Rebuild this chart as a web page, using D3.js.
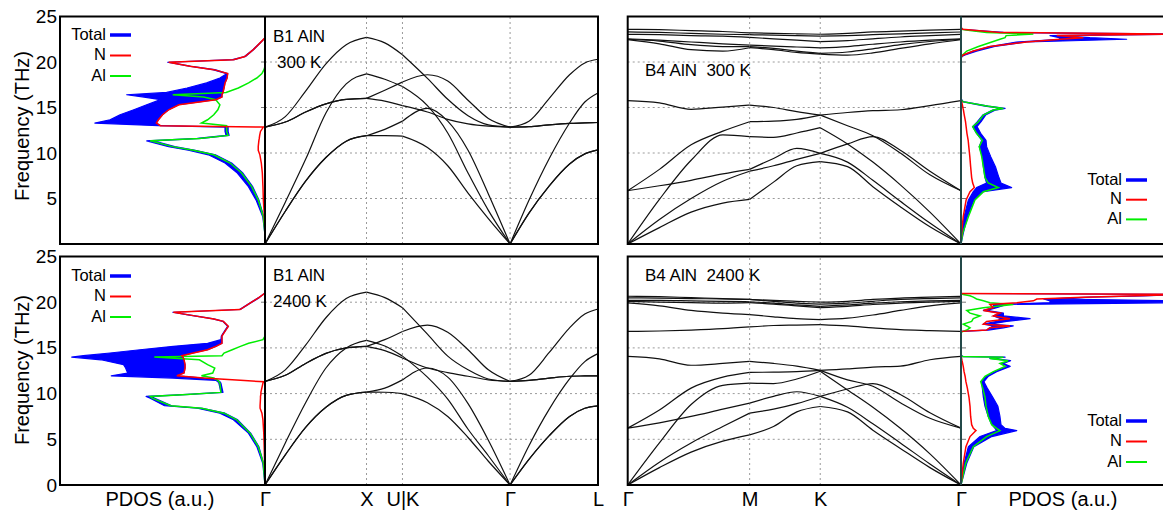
<!DOCTYPE html>
<html>
<head>
<meta charset="utf-8">
<script src="https://cdn.jsdelivr.net/npm/d3@7"></script>
<style>
  html, body { margin: 0; padding: 0; background: #fff; }
  svg { display: block; }
</style>
</head>
<body>
<svg id="fig" width="1163" height="512"></svg>
<script>
// ---------------- phonon dispersion: B1 (rocksalt) AlN ----------------
// path Γ–X–U|K–Γ–L, wavevector in units of 2π/a along the path
const b1K = [0, 0.2, 0.4, 0.6, 0.8, 1.0, 1.18, 1.354, 1.6, 1.8, 2.0, 2.2, 2.414, 2.6, 2.8, 3.0, 3.15, 3.28];
const b1SymK = [0, 1.0, 1.354, 2.414, 3.28];
const b1SymLabels = ["Γ", "X", "U|K", "Γ", "L"];

// 300 K branches (THz)
const b1ColdLO  = [12.85, 14.0, 16.8, 19.8, 21.9, 22.7, 22.1, 20.8, 18.2, 15.9, 14.1, 13.1, 12.85, 13.5, 16.0, 18.6, 19.9, 20.3];
const b1ColdTO1 = [12.85, 13.4, 14.5, 15.4, 15.9, 16.0, 16.9, 17.8, 18.6, 17.9, 15.8, 13.8, 12.85, 12.9, 13.1, 13.25, 13.3, 13.35];
const b1ColdTO2 = [12.85, 13.4, 14.5, 15.4, 15.9, 16.0, 15.7, 15.2, 14.5, 13.7, 13.2, 12.95, 12.85, 12.9, 13.1, 13.25, 13.3, 13.35];
const b1ColdLA  = [0, 4.6, 9.3, 14.4, 17.6, 18.7, 18.1, 17.3, 15.2, 12.2, 7.8, 3.7, 0, 4.8, 9.4, 13.3, 15.6, 16.6];
const b1ColdTA1 = [0, 3.6, 6.9, 9.5, 11.3, 11.9, 12.6, 13.5, 14.9, 13.5, 10.3, 5.5, 0, 3.4, 6.4, 8.8, 9.9, 10.35];
const b1ColdTA2 = [0, 3.6, 6.9, 9.5, 11.3, 11.9, 11.9, 11.85, 10.6, 8.6, 5.6, 2.8, 0, 3.4, 6.4, 8.8, 9.9, 10.35];

// 2400 K branches (THz)
const b1HotLO  = [11.33, 12.6, 15.3, 18.3, 20.4, 21.1, 20.5, 19.4, 16.5, 14.1, 12.6, 11.6, 11.33, 12.0, 14.5, 17.2, 18.7, 19.26];
const b1HotTO1 = [11.33, 12.0, 13.3, 14.4, 15.0, 15.17, 15.9, 16.8, 17.5, 16.7, 14.8, 12.6, 11.33, 11.45, 11.7, 11.9, 11.93, 11.95];
const b1HotTO2 = [11.33, 12.0, 13.3, 14.4, 15.0, 15.17, 14.7, 13.9, 12.8, 12.3, 11.9, 11.5, 11.33, 11.45, 11.7, 11.9, 11.93, 11.95];
const b1HotLA  = [0, 4.6, 9.0, 12.8, 15.0, 15.83, 15.2, 14.1, 11.8, 9.4, 6.1, 3.2, 0, 4.3, 8.3, 11.6, 13.5, 14.37];
const b1HotTA1 = [0, 3.3, 6.3, 8.5, 9.8, 10.16, 10.6, 11.5, 12.8, 11.8, 8.9, 4.9, 0, 2.8, 5.4, 7.5, 8.4, 8.66];
const b1HotTA2 = [0, 3.3, 6.3, 8.5, 9.8, 10.16, 10.15, 10.0, 9.0, 7.5, 5.2, 2.6, 0, 2.8, 5.4, 7.5, 8.4, 8.66];

// ---------------- phonon dispersion: B4 (wurtzite) AlN ----------------
// path Γ–M–K–Γ
const b4K = [0, 0.15, 0.3, 0.45, 0.577, 0.69, 0.8, 0.911, 1.04, 1.16, 1.29, 1.43, 1.577];
const b4SymK = [0, 0.577, 0.911, 1.577];
const b4SymLabels = ["Γ", "M", "K", "Γ"];

// 300 K branches (THz)
const b4ColdU1 = [23.59, 23.55, 23.45, 23.35, 23.2, 23.15, 23.1, 23.05, 23.15, 23.3, 23.4, 23.5, 23.59];
const b4ColdU2 = [23.3, 23.25, 23.15, 23.05, 23.0, 22.95, 22.9, 22.85, 22.9, 23.0, 23.1, 23.2, 23.3];
const b4ColdU3 = [23.04, 23.0, 22.9, 22.85, 22.7, 22.55, 22.4, 22.23, 22.35, 22.55, 22.75, 22.9, 23.04];
const b4ColdU4 = [22.55, 22.4, 22.2, 22.0, 21.85, 21.75, 21.65, 21.55, 21.7, 21.95, 22.2, 22.4, 22.55];
const b4ColdU5 = [22.45, 22.0, 21.35, 21.2, 21.57, 21.35, 21.05, 20.87, 20.75, 21.0, 21.5, 22.0, 22.45];
const b4ColdU6 = [22.5, 22.3, 21.9, 21.7, 21.68, 21.5, 21.2, 20.95, 21.1, 21.45, 21.9, 22.25, 22.5];
const b4ColdL1 = [15.75, 15.5, 14.8, 15.05, 15.27, 15.0, 14.55, 14.17, 13.0, 11.9, 10.0, 7.6, 5.86];
const b4ColdL2 = [5.86, 8.2, 10.9, 12.4, 13.44, 13.5, 13.7, 14.17, 14.45, 14.65, 14.75, 15.2, 15.75];
const b4ColdL3 = [0, 4.9, 9.2, 12.0, 11.8, 11.72, 12.2, 12.78, 11.0, 9.0, 6.5, 3.5, 0];
const b4ColdL4 = [5.86, 6.4, 7.0, 7.7, 8.2, 9.4, 10.5, 9.96, 9.0, 7.0, 4.7, 2.3, 0];
const b4ColdL5 = [0, 2.7, 5.0, 6.9, 8.0, 8.6, 9.3, 9.96, 11.0, 11.8, 10.3, 8.0, 5.86];
const b4ColdL6 = [0, 1.8, 3.5, 4.5, 4.91, 6.8, 8.6, 9.05, 8.5, 6.3, 4.1, 1.9, 0];

// 2400 K branches (THz)
const b4HotU1 = [20.65, 20.6, 20.5, 20.4, 20.3, 20.2, 20.1, 20.0, 20.1, 20.3, 20.45, 20.55, 20.65];
const b4HotU2 = [20.47, 20.45, 20.4, 20.35, 20.3, 20.1, 19.9, 19.8, 19.9, 20.1, 20.3, 20.4, 20.47];
const b4HotU3 = [20.2, 20.2, 20.15, 20.1, 20.05, 19.9, 19.7, 19.55, 19.7, 19.9, 20.05, 20.15, 20.2];
const b4HotU4 = [20.1, 20.0, 19.95, 19.9, 19.95, 19.8, 19.6, 19.4, 19.55, 19.75, 19.9, 20.0, 20.1];
const b4HotU5 = [19.92, 19.6, 19.1, 18.8, 18.64, 18.4, 18.2, 18.1, 18.25, 18.6, 19.1, 19.6, 19.92];
const b4HotU6 = [16.81, 16.85, 16.95, 17.1, 17.3, 17.45, 17.5, 17.55, 17.4, 17.2, 17.0, 16.9, 16.81];
const b4HotL1 = [14.07, 13.8, 13.1, 13.3, 13.53, 13.3, 13.0, 12.54, 11.5, 10.8, 9.0, 7.3, 6.22];
const b4HotL2 = [6.22, 8.2, 10.6, 11.8, 12.32, 12.35, 12.4, 12.54, 12.7, 12.9, 13.0, 13.7, 14.07];
const b4HotL3 = [0, 4.6, 8.8, 10.9, 11.15, 11.1, 11.6, 12.45, 10.4, 8.5, 6.2, 3.4, 0];
const b4HotL4 = [6.22, 6.8, 7.5, 8.3, 8.96, 9.7, 10.2, 9.69, 8.5, 6.7, 4.6, 2.3, 0];
const b4HotL5 = [0, 2.5, 4.6, 6.4, 7.86, 8.3, 8.9, 9.69, 10.5, 11.1, 9.9, 7.9, 6.22];
const b4HotL6 = [0, 1.9, 3.6, 4.8, 5.49, 6.4, 8.0, 8.59, 8.0, 6.0, 4.0, 1.9, 0];

// ---------------- projected phonon DOS (arbitrary units) ----------------
// B1, 300 K
const pdosB1ColdF     = [0, 1, 3, 4.85, 6.3, 7.8, 8.9, 9.8, 10.3, 10.7, 11.34, 11.6, 11.93, 12.37, 12.85, 13.0, 13.29, 13.65, 14.2, 14.75, 15.3, 15.86, 16.15, 16.4, 16.66, 17.14, 17.7, 18.24, 18.72, 19.16, 19.53, 19.97, 20.26, 20.6, 21.36, 22.1, 22.65];
const pdosB1ColdTotLo = [0, 0, 0.6, 3.0, 6.0, 10.8, 16.3, 24.2, 34, 44, 54.5, 31, 17.5, 18, 18, 51, 53, 52, 50, 47, 42, 24, 21, 21, 20.5, 20, 19.5, 18.5, 18.2, 24.5, 36, 46.5, 15, 9.5, 5.5, 2.2, 0];
const pdosB1ColdTotHi = [0, 0, 1.1, 4.4, 8.1, 13.5, 19.5, 27.6, 37.4, 47, 57.7, 33, 19, 19.5, 19.5, 52, 83, 75.6, 70.7, 64, 57.7, 51, 59, 67.5, 48, 38, 28.5, 22, 18.7, 25.5, 37, 47.5, 15.8, 10, 5.9, 2.5, 0];
const pdosB1ColdN     = [0, 0, 0.3, 0.8, 1.0, 1.3, 1.8, 2.5, 3.3, 3.3, 3.0, 2.8, 2.6, 2.2, 0.8, 51, 53, 52, 50, 47, 42, 24, 21, 21, 20.5, 20, 19.5, 18.5, 18.2, 25, 36.6, 47, 15.4, 9.8, 5.7, 2.4, 0];
const pdosB1ColdAl    = [0, 0, 0.8, 3.3, 6.5, 11.4, 17, 25, 35, 45, 56, 32, 18, 18.7, 18.7, 18.7, 31, 28, 25, 23, 22, 24, 30, 45, 19, 13, 8, 4, 1.5, 0.5, 0, 0, 0, 0, 0, 0, 0];

// B1, 2400 K
const pdosB1HotF     = [0, 2.38, 4.2, 5.67, 7.13, 7.86, 8.4, 8.67, 9.5, 9.69, 9.9, 10.13, 11.15, 11.3, 11.45, 11.7, 11.95, 12.25, 12.8, 13.17, 13.7, 14.0, 14.15, 14.44, 14.8, 15.17, 15.5, 15.9, 16.3, 17.0, 17.36, 17.9, 18.17, 18.64, 18.9, 19.2, 19.9, 20.5, 21.0];
const pdosB1HotTotLo = [0, 0.7, 3.0, 7.0, 13.3, 19.5, 30.5, 45.5, 54, 55, 37, 20.5, 21.5, 22, 23, 30, 43, 39.5, 39, 39, 39.5, 40, 40.6, 35, 28, 24, 21, 21, 21, 19, 17.9, 20.3, 25, 38, 44.7, 12, 7, 2.8, 0];
const pdosB1HotTotHi = [0, 1.1, 4, 8.1, 15.4, 22, 33, 49, 56, 58, 40, 21.5, 22.5, 23, 24, 45, 75, 67, 68, 69, 80, 94.3, 88.6, 75.6, 61, 44.7, 28, 21.5, 21.3, 19.3, 18.2, 20.6, 25.3, 38.3, 45, 12.4, 7.4, 3.1, 0];
const pdosB1HotN     = [0, 0.2, 0.4, 0.6, 1.0, 1.5, 2.4, 2.4, 2.2, 2.2, 2.0, 2.0, 1.0, 0.5, 12, 30, 43, 39.5, 39, 39, 39.5, 40, 40.6, 35, 28, 24, 21, 21, 21, 19, 17.9, 20.3, 25, 38, 44.7, 12.2, 7.3, 3, 0];
const pdosB1HotAl    = [0, 0.8, 3.3, 7.3, 13.8, 20, 31, 46, 55, 56, 38, 21.5, 22, 22.5, 23, 25, 31, 25.5, 24.5, 28, 32, 54, 21, 20, 16, 12, 8, 1, 0, 0, 0, 0, 0, 0, 0, 0, 0, 0, 0];

// B4, 300 K
const pdosB4ColdF     = [0, 1.17, 3.0, 4.84, 5.75, 6.2, 6.7, 7.3, 8.5, 9.6, 10.7, 11.4, 12.16, 12.9, 13.44, 14.17, 14.72, 14.9, 15.16, 15.64, 15.8, 16.0, 20.4, 20.6, 20.77, 21.2, 21.7, 22.2, 22.5, 22.67, 22.9, 23.07, 23.25, 23.45, 23.6, 23.8];
const pdosB4ColdTotLo = [0, 0.3, 1.5, 3.6, 6, 7.6, 12.5, 11.7, 10.9, 10.4, 8.9, 10.1, 7.6, 5.7, 8, 10.6, 15.4, 19.8, 11.7, 0.5, 0.3, 0, 0, 0.3, 1.1, 6, 14.1, 27, 48, 48, 43.4, 92, 17.4, 6.8, 0.3, 0];
const pdosB4ColdTotHi = [0, 1.1, 3.1, 6.3, 10.9, 24.7, 19.5, 18.5, 16.8, 14.5, 12.5, 12.2, 9.6, 7.8, 9.8, 12.0, 16.8, 21.5, 13.3, 1.1, 0.5, 0, 0, 0.5, 2, 7.6, 16.5, 32, 80.8, 62.9, 48, 108.5, 20.7, 8.5, 0.8, 0];
const pdosB4ColdN     = [0, 0.3, 1.1, 2.5, 4.4, 6.5, 5.7, 5.2, 4.7, 4.3, 3.8, 3.5, 2.9, 2.5, 2.2, 1.6, 1.2, 1.0, 0.8, 0.3, 0, 0, 0, 0.3, 1.1, 6.0, 14.1, 32, 48.3, 59.7, 46.7, 108.5, 19, 7.6, 0.8, 0];
const pdosB4ColdAl    = [0, 0.8, 3.6, 6.8, 10.9, 18.2, 13.3, 11.7, 10.9, 10.1, 8.9, 10.4, 7.6, 5.7, 8.5, 10.9, 15.8, 20.7, 12.5, 0.8, 0.3, 0, 0, 0.3, 0.8, 2.8, 8.5, 15, 19, 21.5, 22, 35.3, 12.5, 4.4, 0.3, 0];

// B4, 2400 K
const pdosB4HotF     = [0, 2.38, 4.2, 5.3, 5.95, 6.2, 6.6, 7.5, 8.6, 9.6, 10.6, 11.3, 11.9, 12.4, 12.98, 13.3, 13.6, 13.85, 13.98, 14.05, 14.2, 16.7, 16.81, 16.95, 17.2, 17.4, 17.6, 17.9, 18.2, 18.5, 18.8, 19.1, 19.4, 19.75, 19.95, 20.15, 20.35, 20.55, 20.7, 20.85, 20.95];
const pdosB4HotTotLo = [0, 1.5, 3.6, 9.3, 17.4, 16.6, 15, 13.3, 11.7, 10.9, 10.4, 10.1, 12.5, 16.6, 23, 19.8, 23.4, 14.1, 20.7, 0.8, 0, 0, 0.3, 12.5, 14.1, 15.8, 10.9, 17.4, 19.4, 15.8, 19, 10.9, 15.8, 15.8, 43.4, 43.4, 40.3, 62.9, 88.9, 108, 0];
const pdosB4HotTotHi = [0, 2.8, 6.3, 15, 27.2, 21.5, 19.5, 19, 18, 15.5, 12.8, 11.2, 13.4, 17.4, 24, 20.7, 24.2, 14.9, 21.5, 1.1, 0, 0, 0.5, 13.3, 20.7, 25.5, 14.1, 22.3, 33.7, 20.7, 20.7, 12.5, 17.4, 22.3, 108, 108, 48.3, 63, 89, 108, 0];
const pdosB4HotN     = [0, 1.1, 2.4, 4.4, 7.3, 6, 5.2, 4.7, 4.4, 3.9, 3.1, 2.4, 2, 1.5, 1.1, 0.8, 0.5, 0.3, 0.2, 0, 0, 0, 0.3, 12.5, 14.1, 23.9, 10.9, 12.5, 23.9, 15.8, 19, 10.9, 15.8, 14.1, 27.2, 35.3, 37, 59.7, 85.7, 108, 0];
const pdosB4HotAl    = [0, 2.3, 6, 12.5, 19, 17.4, 15, 13.3, 12.2, 11.7, 10.6, 9.6, 11.7, 15.8, 21.5, 19, 23, 14.1, 20.7, 0.8, 0, 0, 1.1, 2.8, 4.4, 2.8, 1.1, 5.2, 6, 9.3, 4.4, 2.8, 10.9, 25.5, 14.1, 10.9, 7.6, 6, 4.4, 1.1, 0];

// axis text
const freqTicksTop = [5, 10, 15, 20, 25];
const freqTicksBottom = [0, 5, 10, 15, 20, 25];
const legendLabels = ["Total", "N", "Al"];
const legendColors = ["#0000ff", "#ff0000", "#00ee00"];

// ---------------- drawing ----------------
const FONT = '"Liberation Sans", Arial, Helvetica, sans-serif';
const svg = d3.select("#fig");
const defs = svg.append("defs");

const rowsY = [[244, 16.5], [485, 256.5]];
const xPdosL = d3.scaleLinear().domain([0, 100]).range([265, 60]);
const xB1 = d3.scaleLinear().domain([0, 3.28]).range([265, 598]);
const xB4 = d3.scaleLinear().domain([0, 1.577]).range([627.7, 961]);
const xPdosR = d3.scaleLinear().domain([0, 100]).range([961, 1166]);

function drawBands(g, x, y, kArr, symK, branches) {
  const cuts = symK.map(k => kArr.indexOf(k));
  const line = d3.line().x(p => x(p[0])).y(p => y(p[1])).curve(d3.curveMonotoneX);
  branches.forEach(vals => {
    for (let s = 0; s < cuts.length - 1; s++) {
      const pts = d3.range(cuts[s], cuts[s + 1] + 1).map(i => [kArr[i], vals[i]]);
      g.append("path").attr("d", line(pts))
        .attr("fill", "none").attr("stroke", "#111").attr("stroke-width", 1.2);
    }
  });
}

function drawPdos(g, x, y, f, lo, hi, n, al, clipId) {
  const gg = g.append("g").attr("clip-path", `url(#${clipId})`);
  const idx = d3.range(f.length);
  const area = d3.area().y(i => y(f[i])).x0(i => x(lo[i])).x1(i => x(hi[i]));
  gg.append("path").attr("d", area(idx))
    .attr("fill", "#0000ff").attr("stroke", "#0000ff").attr("stroke-width", 1.2)
    .attr("stroke-linejoin", "round");
  const mk = arr => d3.line().x(i => x(arr[i])).y(i => y(f[i]))(idx);
  gg.append("path").attr("d", mk(al)).attr("fill", "none")
    .attr("stroke", "#00ee00").attr("stroke-width", 1.5);
  gg.append("path").attr("d", mk(n)).attr("fill", "none")
    .attr("stroke", "#ff0000").attr("stroke-width", 1.5);
}

function drawGrid(g, x, y, xVals, x0, x1) {
  const grid = g.append("g").attr("stroke", "#9a9a9a").attr("stroke-width", 1)
    .attr("stroke-dasharray", "2,3");
  [5, 10, 15, 20].forEach(v => {
    grid.append("line").attr("x1", x0).attr("x2", x1).attr("y1", y(v)).attr("y2", y(v));
  });
  xVals.forEach(k => {
    grid.append("line").attr("x1", x(k)).attr("x2", x(k)).attr("y1", y(0)).attr("y2", y(25));
  });
}

function drawLegend(g, xEnd, yStart, step) {
  legendLabels.forEach((lab, i) => {
    const yy = yStart + i * step;
    g.append("text").attr("x", xEnd).attr("y", yy).attr("dy", "0.35em")
      .attr("text-anchor", "end").attr("font-family", FONT).attr("font-size", 16.5)
      .text(lab);
    g.append("line").attr("x1", xEnd + 4).attr("x2", xEnd + 25).attr("y1", yy + 1).attr("y2", yy + 1)
      .attr("stroke", legendColors[i]).attr("stroke-width", i === 0 ? 3.5 : 2);
  });
}

function drawRow(r) {
  const g = svg.append("g");
  const y = d3.scaleLinear().domain([0, 25]).range(rowsY[r]);
  const yTop = y(25), yBot = y(0);
  const cold = r === 0;

  // clip regions for the DOS panels
  defs.append("clipPath").attr("id", "clipL" + r).append("rect")
    .attr("x", 60).attr("y", yTop).attr("width", 205).attr("height", yBot - yTop);
  defs.append("clipPath").attr("id", "clipR" + r).append("rect")
    .attr("x", 961).attr("y", yTop).attr("width", 210).attr("height", yBot - yTop);

  // dotted grids in the dispersion panels
  drawGrid(g, xB1, y, b1SymK.slice(1, -1), 265, 598);
  drawGrid(g, xB4, y, b4SymK.slice(1, -1), 627.7, 961);

  // short ticks on the DOS side of the dividers
  const ticks = g.append("g").attr("stroke", "#777").attr("stroke-width", 1);
  [5, 10, 15, 20].forEach(v => {
    ticks.append("line").attr("x1", 261).attr("x2", 265).attr("y1", y(v)).attr("y2", y(v));
    ticks.append("line").attr("x1", 961).attr("x2", 966).attr("y1", y(v)).attr("y2", y(v));
  });

  // dispersion curves
  drawBands(g, xB1, y, b1K, b1SymK, cold
    ? [b1ColdLO, b1ColdTO1, b1ColdTO2, b1ColdLA, b1ColdTA1, b1ColdTA2]
    : [b1HotLO, b1HotTO1, b1HotTO2, b1HotLA, b1HotTA1, b1HotTA2]);
  drawBands(g, xB4, y, b4K, b4SymK, cold
    ? [b4ColdU1, b4ColdU2, b4ColdU3, b4ColdU4, b4ColdU5, b4ColdU6, b4ColdL1, b4ColdL2, b4ColdL3, b4ColdL4, b4ColdL5, b4ColdL6]
    : [b4HotU1, b4HotU2, b4HotU3, b4HotU4, b4HotU5, b4HotU6, b4HotL1, b4HotL2, b4HotL3, b4HotL4, b4HotL5, b4HotL6]);

  // projected DOS
  if (cold) {
    drawPdos(g, xPdosL, y, pdosB1ColdF, pdosB1ColdTotLo, pdosB1ColdTotHi, pdosB1ColdN, pdosB1ColdAl, "clipL0");
    drawPdos(g, xPdosR, y, pdosB4ColdF, pdosB4ColdTotLo, pdosB4ColdTotHi, pdosB4ColdN, pdosB4ColdAl, "clipR0");
  } else {
    drawPdos(g, xPdosL, y, pdosB1HotF, pdosB1HotTotLo, pdosB1HotTotHi, pdosB1HotN, pdosB1HotAl, "clipL1");
    drawPdos(g, xPdosR, y, pdosB4HotF, pdosB4HotTotLo, pdosB4HotTotHi, pdosB4HotN, pdosB4HotAl, "clipR1");
  }

  // frames
  g.append("rect").attr("x", 60).attr("y", yTop).attr("width", 538).attr("height", yBot - yTop)
    .attr("fill", "none").attr("stroke", "#000").attr("stroke-width", 2);
  g.append("line").attr("x1", 265).attr("x2", 265).attr("y1", yTop).attr("y2", yBot)
    .attr("stroke", "#000").attr("stroke-width", 2);
  g.append("rect").attr("x", 627.7).attr("y", yTop).attr("width", 560).attr("height", yBot - yTop)
    .attr("fill", "none").attr("stroke", "#000").attr("stroke-width", 2);
  g.append("line").attr("x1", 961).attr("x2", 961).attr("y1", yTop).attr("y2", yBot)
    .attr("stroke", "#234848").attr("stroke-width", 2);

  // frequency axis
  const ax = d3.axisLeft(y).tickValues(cold ? freqTicksTop : freqTicksBottom)
    .tickSize(0).tickPadding(3);
  const ga = g.append("g").attr("transform", "translate(60,0)").call(ax);
  ga.select(".domain").remove();
  ga.attr("font-family", FONT).attr("font-size", 19);
  ga.selectAll("text").attr("fill", "#000");

  g.append("text")
    .attr("transform", `translate(29,${cold ? 126 : 370}) rotate(-90)`)
    .attr("text-anchor", "middle").attr("font-family", FONT).attr("font-size", 20)
    .text("Frequency (THz)");

  // panel titles
  const title = (x0, yy, txt) => g.append("text").attr("x", x0).attr("y", yy)
    .attr("font-family", FONT).attr("font-size", 17).style("white-space", "pre").text(txt);
  if (cold) {
    title(273, 42, "B1 AlN");
    title(277, 68, "300 K");
    title(645, 76, "B4 AlN  300 K");
  } else {
    title(273, 281, "B1 AlN");
    title(273, 307, "2400 K");
    title(645, 281, "B4 AlN  2400 K");
  }

  // legends
  if (cold) {
    drawLegend(g, 106, 34, 20.5);
    drawLegend(g, 1122, 179, 19.7);
  } else {
    drawLegend(g, 106, 275, 20.5);
    drawLegend(g, 1122, 420, 20.5);
  }

  // high-symmetry point labels under the bottom row
  if (!cold) {
    const bx1 = d3.axisBottom(xB1).tickValues(b1SymK)
      .tickFormat((d, i) => b1SymLabels[i]).tickSize(0).tickPadding(7);
    const gb1 = g.append("g").attr("transform", `translate(0,${yBot})`).call(bx1);
    const bx4 = d3.axisBottom(xB4).tickValues(b4SymK)
      .tickFormat((d, i) => b4SymLabels[i]).tickSize(0).tickPadding(7);
    const gb4 = g.append("g").attr("transform", `translate(0,${yBot})`).call(bx4);
    [gb1, gb4].forEach(gb => {
      gb.select(".domain").remove();
      gb.attr("font-family", FONT).attr("font-size", 20);
      gb.selectAll("text").attr("fill", "#000");
    });
    g.append("text").attr("x", 160).attr("y", 506).attr("text-anchor", "middle")
      .attr("font-family", FONT).attr("font-size", 20).text("PDOS (a.u.)");
    g.append("text").attr("x", 1063).attr("y", 506).attr("text-anchor", "middle")
      .attr("font-family", FONT).attr("font-size", 20).text("PDOS (a.u.)");
  }
}

drawRow(0);
drawRow(1);
</script>
</body>
</html>
